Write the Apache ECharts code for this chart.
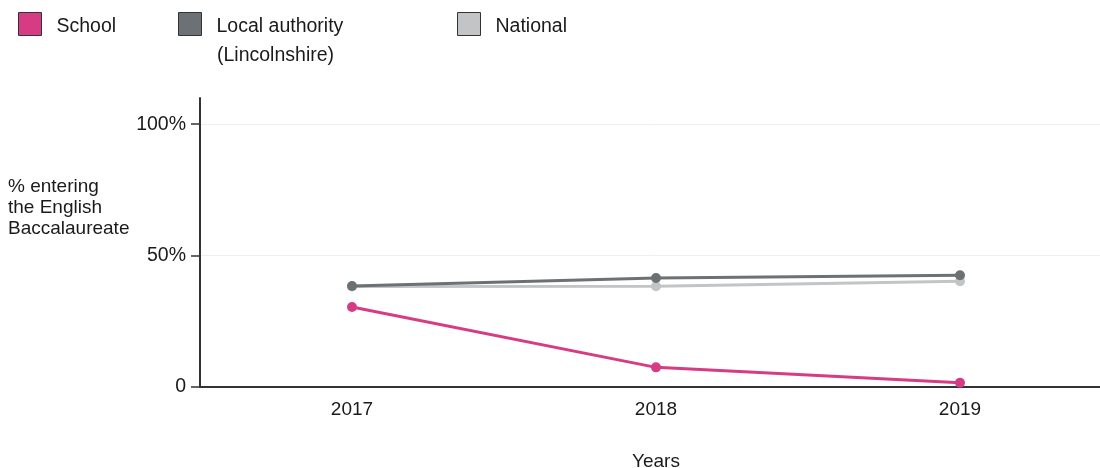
<!DOCTYPE html>
<html>
<head>
<meta charset="utf-8">
<script src="https://cdn.jsdelivr.net/npm/echarts@6/dist/echarts.min.js"></script>
<style>
html,body{margin:0;padding:0;background:#fff;}
#chart{width:1100px;height:468px;}
</style>
</head>
<body>
<div id="chart"></div>
<script>
const years = ['2017', '2018', '2019'];
const schoolValues = [30.3, 7.3, 1.4];
const localAuthorityValues = [38.3, 41.4, 42.4];
const nationalValues = [38.1, 38.2, 40.1];
const yTickValues = [0, 50, 100];
const yTickLabels = ['0', '50%', '100%'];

const FONT = 'Liberation Sans, Arial, sans-serif';
const TEXT = '#1a1a1a';
const C_SCHOOL = '#d63b84';
const C_LA = '#6b7174';
const C_NAT = '#c3c4c5';

const chart = echarts.init(document.getElementById('chart'));

function legendFor(name, left, color, label) {
  return {
    data: [{ name: name, itemStyle: { color: color, borderColor: '#333', borderWidth: 1 } }],
    left: left,
    top: 12,
    icon: 'rect',
    itemWidth: 23,
    itemHeight: 23,
    itemGap: 0,
    padding: 0,
    selectedMode: false,
    formatter: function () { return '{t|' + label + '}'; },
    textStyle: {
      fontFamily: FONT, fontSize: 19.5, color: TEXT, padding: [0, 0, 0, 10],
      rich: { t: { fontFamily: FONT, fontSize: 19.5, color: TEXT, padding: [6, 0, 0, 0] } }
    }
  };
}

chart.setOption({
  animation: false,
  backgroundColor: '#fff',
  legend: [
    legendFor('School', 18, C_SCHOOL, 'School'),
    legendFor('Local authority (Lincolnshire)', 178, C_LA, 'Local authority'),
    legendFor('National', 457, C_NAT, 'National')
  ],
  graphic: [{
    type: 'text',
    left: 217,
    top: 46,
    style: {
      text: '(Lincolnshire)',
      font: '19.5px ' + FONT,
      fill: TEXT
    }
  }, {
    type: 'text',
    left: 8,
    top: 176,
    style: {
      text: '% entering\nthe English\nBaccalaureate',
      font: '19px ' + FONT,
      fill: TEXT,
      lineHeight: 21
    }
  }],
  grid: { left: 200, top: 98, width: 912, height: 288.5, outerBoundsMode: 'none', containLabel: false },
  xAxis: {
    type: 'category',
    data: years,
    boundaryGap: true,
    name: 'Years',
    nameLocation: 'middle',
    nameGap: 66,
    nameTextStyle: { fontFamily: FONT, fontSize: 19, color: TEXT },
    axisLine: { lineStyle: { color: '#333', width: 2 } },
    axisTick: { alignWithLabel: true, length: 9, lineStyle: { color: '#333', width: 1.5 } },
    axisLabel: { fontFamily: FONT, fontSize: 19, color: TEXT, margin: 14 },
    splitLine: { show: false }
  },
  yAxis: {
    type: 'value',
    min: 0,
    max: 110,
    interval: 50,
    axisLine: { show: true, lineStyle: { color: '#333', width: 2 } },
    axisTick: { show: true, length: 9, customValues: yTickValues, lineStyle: { color: '#333', width: 1.5 } },
    axisLabel: {
      fontFamily: FONT, fontSize: 19.5, color: TEXT, margin: 14,
      customValues: yTickValues,
      formatter: function (v) { const i = yTickValues.indexOf(v); return i >= 0 ? yTickLabels[i] : ''; }
    },
    splitLine: { show: true, lineStyle: { color: '#eeeeee', width: 1 } }
  },
  series: [
    {
      name: 'National', type: 'line', data: nationalValues,
      symbol: 'circle', symbolSize: 10, z: 2,
      lineStyle: { color: C_NAT, width: 3 }, itemStyle: { color: C_NAT }
    },
    {
      name: 'Local authority (Lincolnshire)', type: 'line', data: localAuthorityValues,
      symbol: 'circle', symbolSize: 10, z: 3,
      lineStyle: { color: C_LA, width: 3 }, itemStyle: { color: C_LA }
    },
    {
      name: 'School', type: 'line', data: schoolValues,
      symbol: 'circle', symbolSize: 10, z: 4,
      lineStyle: { color: C_SCHOOL, width: 3 }, itemStyle: { color: C_SCHOOL }
    }
  ]
});
</script>
</body>
</html>
